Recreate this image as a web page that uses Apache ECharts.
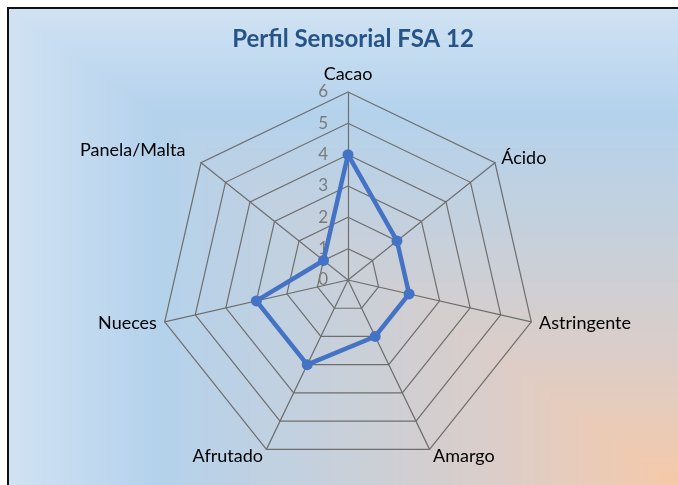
<!DOCTYPE html>
<html>
<head>
<meta charset="utf-8">
<script src="https://cdn.jsdelivr.net/npm/echarts@6/dist/echarts.min.js"></script>
<style>
  html, body { margin: 0; padding: 0; width: 678px; height: 485px; overflow: hidden; background: #ffffff; }
  #frame { position: absolute; left: 7px; top: 7px; width: 700px; height: 500px; border-left: 2px solid #111; border-top: 2px solid #111; }
  #bg { position: absolute; left: 0; top: 0; }
  #chart { position: absolute; left: 0; top: 0; width: 678px; height: 485px; }
</style>
</head>
<body>
<div id="frame"><canvas id="bg" width="680" height="490"></canvas></div>
<div id="chart"></div>
<script>
// ---- data ----
const titleText = 'Perfil Sensorial FSA 12';
const categories = ['Cacao', 'Ácido', 'Astringente', 'Amargo', 'Afrutado', 'Nueces', 'Panela/Malta']; // clockwise from top
const values = [4, 2, 2, 2, 3, 3, 1];
const axisMax = 6;

// ---- background (rectangular path gradient from bottom-right corner) ----
(function () {
  const c = document.getElementById('bg');
  const ctx = c.getContext('2d');
  const W = 670, H = 477;
  const img = ctx.createImageData(c.width, c.height);
  const stops = [
    [0.00, [246, 201, 168]],
    [0.25, [222, 205, 198]],
    [0.50, [200, 208, 218]],
    [0.78, [180, 210, 236]],
    [1.00, [208, 226, 243]]
  ];
  function col(t) {
    t = Math.min(1, Math.max(0, t));
    for (let i = 1; i < stops.length; i++) {
      if (t <= stops[i][0]) {
        const a = stops[i - 1], b = stops[i];
        const f = (t - a[0]) / (b[0] - a[0]);
        return [0, 1, 2].map(k => a[1][k] + (b[1][k] - a[1][k]) * f);
      }
    }
    return stops[stops.length - 1][1];
  }
  for (let y = 0; y < c.height; y++) {
    for (let x = 0; x < c.width; x++) {
      const t = Math.max((W - x) / W, (H - y) / H);
      const cc = col(t);
      const i = (y * c.width + x) * 4;
      img.data[i] = cc[0]; img.data[i + 1] = cc[1]; img.data[i + 2] = cc[2]; img.data[i + 3] = 255;
    }
  }
  ctx.putImageData(img, 0, 0);
})();

// ECharts places radar indicators counter-clockwise; reorder so they read clockwise.
const order = [0].concat(categories.slice(1).map((_, i) => categories.length - 1 - i));
const indicator = order.map((idx, k) => {
  const ind = { name: categories[idx], max: axisMax, min: 0 };
  if (k === 0) {
    ind.axisLabel = { show: true, color: '#7a7a7a', fontFamily: 'Lato', fontSize: 17, margin: 20 };
  }
  if (categories[idx] === 'Panela/Malta') ind.nameGap = 20;
  return ind;
});
const seriesValues = order.map(idx => values[idx]);

const chart = echarts.init(document.getElementById('chart'), null, { renderer: 'canvas' });
chart.setOption({
  backgroundColor: 'transparent',
  animation: false,
  title: {
    text: titleText,
    left: 348,
    textAlign: 'center',
    top: 22,
    textStyle: { fontFamily: 'Lato', fontWeight: 'bold', fontSize: 24, color: '#265487' }
  },
  radar: {
    center: [348, 280],
    radius: 188,
    startAngle: 90,
    splitNumber: 6,
    shape: 'polygon',
    nameGap: 8,
    axisName: { color: '#000000', fontFamily: 'Lato', fontSize: 18 },
    axisLine: { lineStyle: { color: '#6e6e6e', width: 1.2 } },
    splitLine: { lineStyle: { color: '#6e6e6e', width: 1.2 } },
    splitArea: { show: false },
    axisTick: { show: false },
    axisLabel: { show: false },
    indicator: indicator
  },
  series: [{
    type: 'radar',
    symbol: 'circle',
    symbolSize: 11,
    lineStyle: { color: '#4472C4', width: 4.5 },
    itemStyle: { color: '#4472C4' },
    data: [{ value: seriesValues, name: 'FSA 12' }]
  }]
});
</script>
</body>
</html>
